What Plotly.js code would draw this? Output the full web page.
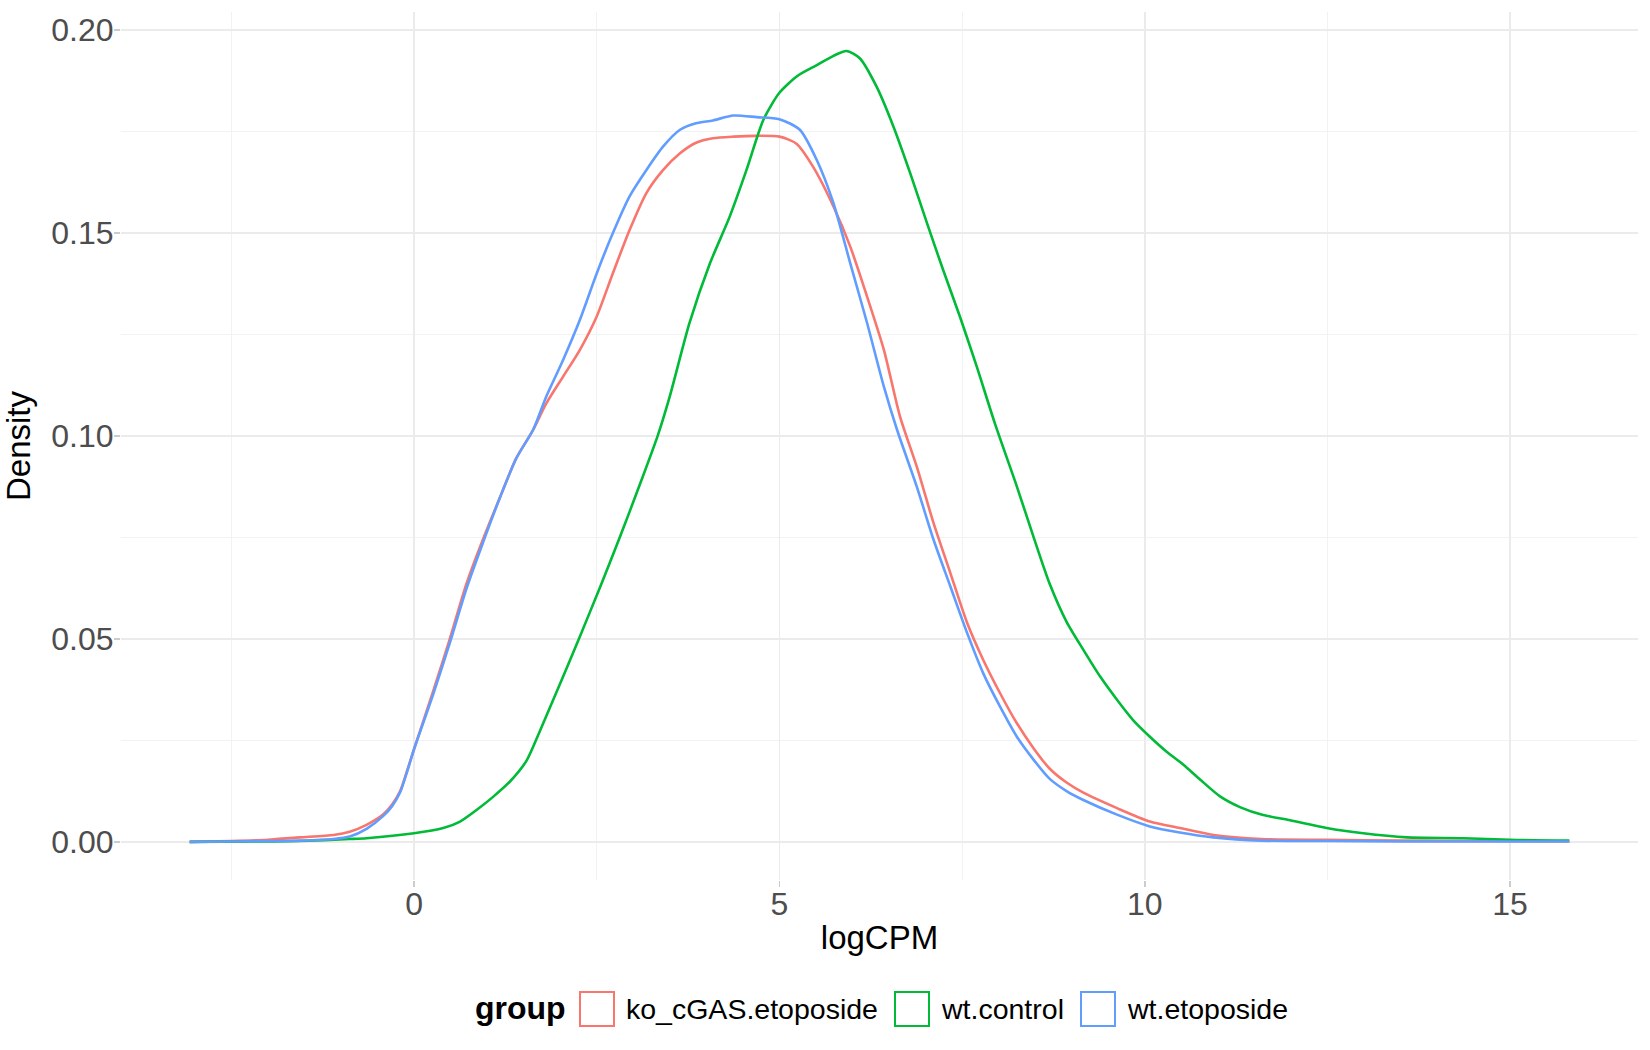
<!DOCTYPE html>
<html>
<head>
<meta charset="utf-8">
<script src="https://cdn.plot.ly/plotly-3.0.1.min.js"></script>
<style>
  html, body { margin: 0; padding: 0; background: #ffffff; }
  #density-plot { width: 1650px; height: 1050px; }
</style>
</head>
<body>
<div id="density-plot"></div>
<script>
// Group names and colours (ggplot default hue palette)
const groupNames = ['ko_cGAS.etoposide', 'wt.control', 'wt.etoposide'];
const groupColors = ['#F8766D', '#00BA38', '#619CFF'];

// Density curves (logCPM, density)
const koX = [-3.07, -2.5, -2.0, -1.56, -1.1, -0.88, -0.65, -0.42, -0.3, -0.19, -0.1, 0, 0.26, 0.49, 0.72,
  0.95, 1.18, 1.40, 1.63, 1.81, 2.04, 2.27, 2.50, 2.72, 2.95, 3.18, 3.41, 3.64, 3.86, 4.09, 4.37, 4.69,
  5.0, 5.23, 5.46, 5.74, 5.97, 6.20, 6.43, 6.65, 6.88, 7.11, 7.34, 7.57, 7.79, 8.02, 8.25, 8.48, 8.70,
  8.93, 9.16, 9.62, 10.07, 10.48, 10.94, 11.6, 12.5, 13.5, 14.5, 15.81];
const koY = [0, 0.0002, 0.0005, 0.0011, 0.0017, 0.0025, 0.0042, 0.0068, 0.0092, 0.0125, 0.0172, 0.0228,
  0.037, 0.050, 0.0637, 0.0748, 0.085, 0.0945, 0.1015, 0.108, 0.1146, 0.1212, 0.1294, 0.140, 0.1507,
  0.1598, 0.1655, 0.1696, 0.1722, 0.1733, 0.1737, 0.1739, 0.1737, 0.172, 0.1663, 0.1565, 0.1466, 0.1343,
  0.1212, 0.1048, 0.0924, 0.0785, 0.0662, 0.0539, 0.0448, 0.0366, 0.0292, 0.0230, 0.0180, 0.0146,
  0.0121, 0.0083, 0.005, 0.0034, 0.0017, 0.0007, 0.0005, 0.0003, 0.0002, 0.0001];

const wtControlX = [-3.07, -2.0, -1.56, -0.88, -0.65, 0, 0.40, 0.63, 0.86, 1.09, 1.31, 1.54, 1.72, 2.0,
  2.27, 2.55, 2.82, 3.09, 3.34, 3.50, 3.77, 4.05, 4.32, 4.55, 4.78, 5.0, 5.25, 5.5, 5.74, 5.92, 6.10, 6.33,
  6.56, 6.79, 7.02, 7.24, 7.47, 7.70, 7.95, 8.25, 8.48, 8.70, 8.93, 9.16, 9.39, 9.62, 9.84, 10.07, 10.30,
  10.53, 10.76, 11.03, 11.31, 11.62, 11.99, 12.49, 12.99, 13.59, 14.36, 15.0, 15.81];
const wtControlY = [0, 0.0001, 0.0002, 0.0007, 0.0009, 0.0021, 0.0034, 0.005, 0.0079, 0.0112, 0.0148,
  0.0200, 0.0272, 0.039, 0.0506, 0.0629, 0.0752, 0.0880, 0.1003, 0.1097, 0.1278, 0.1425, 0.154, 0.1655,
  0.1778, 0.1845, 0.1887, 0.1912, 0.1936, 0.1948, 0.193, 0.186, 0.1762, 0.1647, 0.1524, 0.1409, 0.1294,
  0.1171, 0.103, 0.0875, 0.0750, 0.0635, 0.0542, 0.0473, 0.0407, 0.035, 0.03, 0.0259, 0.0222, 0.019,
  0.0153, 0.0112, 0.0085, 0.0066, 0.0053, 0.0034, 0.0021, 0.0011, 0.0009, 0.0005, 0.0003];

const wtEtoX = [-3.07, -2.5, -2.0, -1.56, -1.1, -0.88, -0.65, -0.42, -0.3, -0.19, -0.1, 0, 0.26, 0.49, 0.72,
  0.95, 1.18, 1.40, 1.63, 1.81, 2.04, 2.27, 2.50, 2.72, 2.95, 3.18, 3.41, 3.64, 3.86, 4.09, 4.37, 4.69,
  5.0, 5.28, 5.51, 5.74, 5.97, 6.20, 6.43, 6.61, 6.88, 7.11, 7.34, 7.57, 7.79, 8.02, 8.25, 8.48, 8.70,
  8.93, 9.16, 9.62, 10.07, 10.48, 10.94, 11.6, 12.5, 13.5, 14.5, 15.81];
const wtEtoY = [0, 0.0001, 0.0002, 0.0003, 0.0007, 0.0013, 0.0032, 0.0064, 0.0088, 0.0122, 0.0170, 0.0228,
  0.0362, 0.049, 0.0625, 0.074, 0.085, 0.0945, 0.1015, 0.1097, 0.1187, 0.1286, 0.140, 0.1499, 0.159,
  0.1655, 0.1713, 0.1754, 0.177, 0.1777, 0.1789, 0.1785, 0.178, 0.1754, 0.168, 0.1573, 0.1425, 0.1278,
  0.1121, 0.1015, 0.0875, 0.0744, 0.0629, 0.0514, 0.0415, 0.0333, 0.0259, 0.0202, 0.0155, 0.0125,
  0.0103, 0.0067, 0.0038, 0.0023, 0.0011, 0.0003, 0.0002, 0.0001, 0.0001, 0.0001];

const seriesX = [koX, wtControlX, wtEtoX];
const seriesY = [koY, wtControlY, wtEtoY];

// Page geometry (px)
const W = 1650;
const H = 1050;
const margin = { l: 121, r: 12, t: 12, b: 170 };
const plotW = W - margin.l - margin.r;
const plotH = H - margin.t - margin.b;

// helpers to place the hand-made legend in paper units
function paperX(px) {
  return (px - margin.l) / plotW;
}
function paperY(py) {
  return (H - margin.b - py) / plotH;
}

var fontFamily = '"Liberation Sans", Arial, Helvetica, sans-serif';
var gridColor = '#EBEBEB';
var minorGridColor = '#F2F2F2';

var traces = groupNames.map((name, i) => ({
  x: seriesX[i],
  y: seriesY[i],
  name: name,
  type: 'scatter',
  mode: 'lines',
  line: { color: groupColors[i], width: 2.6, shape: 'spline', smoothing: 0.7 },
  showlegend: false,
  hoverinfo: 'x+y+name',
}));

/*
  ggplot-style legend: "group" title + outlined key boxes
*/
var legendBoxLeft = [580, 895, 1081];
var legendBoxSize = 34;
var legendTop = 992;
var legendMid = legendTop + legendBoxSize / 2;

var shapes = groupNames.map((name, i) => ({
  type: 'rect',
  xref: 'paper',
  yref: 'paper',
  x0: paperX(legendBoxLeft[i]),
  x1: paperX(legendBoxLeft[i] + legendBoxSize),
  y0: paperY(legendTop + legendBoxSize),
  y1: paperY(legendTop),
  line: { color: groupColors[i], width: 2 },
  fillcolor: 'rgba(0,0,0,0)',
}));

var annotations = groupNames.map((name, i) => ({
  text: name,
  xref: 'paper',
  yref: 'paper',
  x: paperX(legendBoxLeft[i] + legendBoxSize + 10),
  y: paperY(legendMid),
  xanchor: 'left',
  yanchor: 'middle',
  showarrow: false,
  font: { family: fontFamily, size: 28.5, color: '#000000' },
}));

annotations.push({
  text: '<b>group</b>',
  xref: 'paper',
  yref: 'paper',
  x: paperX(473),
  y: paperY(legendMid - 1),
  xanchor: 'left',
  yanchor: 'middle',
  showarrow: false,
  font: { family: fontFamily, size: 32, color: '#000000' },
});

var layout = {
  width: W,
  height: H,
  margin: margin,
  paper_bgcolor: '#ffffff',
  plot_bgcolor: '#ffffff',
  font: { family: fontFamily, size: 32, color: '#4D4D4D' },
  showlegend: false,
  xaxis: {
    range: [-4.01, 16.75],
    tick0: 0,
    dtick: 5,
    showgrid: true,
    gridcolor: gridColor,
    gridwidth: 1.6,
    minor: { dtick: 2.5, showgrid: true, gridcolor: minorGridColor, gridwidth: 1 },
    zeroline: false,
    showline: false,
    ticks: 'outside',
    ticklen: 6,
    tickwidth: 1.5,
    tickcolor: '#CCCCCC',
    ticklabelstandoff: -10,
    tickfont: { family: fontFamily, size: 32, color: '#4D4D4D' },
    title: {
      text: 'logCPM',
      standoff: 4,
      font: { family: fontFamily, size: 33, color: '#000000' },
    },
  },
  yaxis: {
    range: [-0.0094, 0.2044],
    tick0: 0,
    dtick: 0.05,
    tickformat: '.2f',
    showgrid: true,
    gridcolor: gridColor,
    gridwidth: 1.6,
    minor: { dtick: 0.025, showgrid: true, gridcolor: minorGridColor, gridwidth: 1 },
    zeroline: false,
    showline: false,
    ticks: 'outside',
    ticklen: 6,
    tickwidth: 1.5,
    tickcolor: '#CCCCCC',
    ticklabelstandoff: -6,
    tickfont: { family: fontFamily, size: 32, color: '#4D4D4D' },
    title: {
      text: 'Density',
      standoff: 10,
      font: { family: fontFamily, size: 33, color: '#000000' },
    },
  },
  shapes: shapes,
  annotations: annotations,
};

var config = { responsive: false, displayModeBar: false, staticPlot: true };

Plotly.newPlot('density-plot', traces, layout, config);
</script>
</body>
</html>
